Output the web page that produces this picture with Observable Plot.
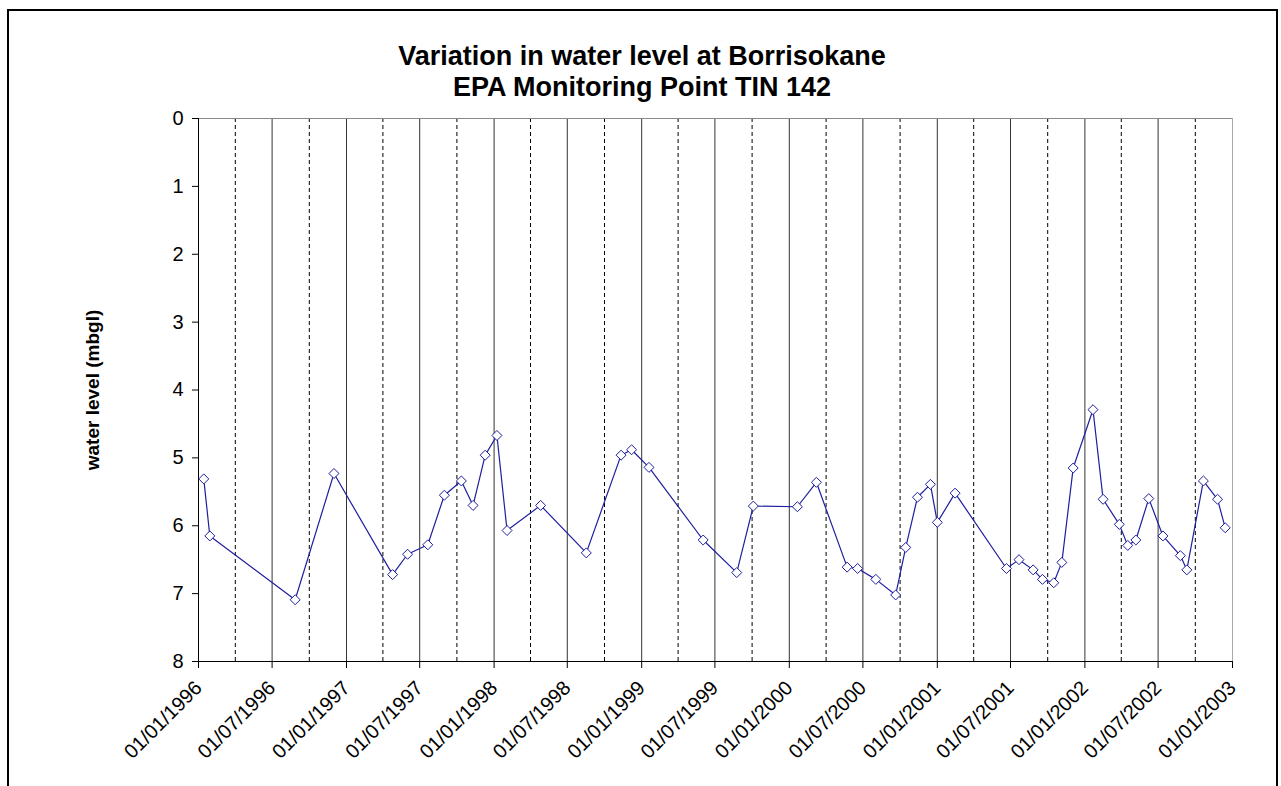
<!DOCTYPE html>
<html><head><meta charset="utf-8">
<script src="https://cdn.jsdelivr.net/npm/d3@7"></script>
<script src="https://cdn.jsdelivr.net/npm/@observablehq/plot@0.6"></script>
<style>
body{margin:0;background:#fff;font-family:Arial,"Liberation Sans",sans-serif;}
#wrap{position:relative;width:1281px;height:786px;overflow:hidden;background:#fff;}
#border{position:absolute;left:7px;top:9px;width:1271px;height:820px;border:2px solid #000;box-sizing:border-box;}
.title{position:absolute;left:1px;width:1282px;text-align:center;font-weight:bold;font-size:27px;line-height:31px;color:#000;white-space:nowrap;}
#ylab{position:absolute;left:-57.5px;top:380px;width:300px;height:20px;line-height:20px;text-align:center;font-weight:bold;font-size:19px;transform:rotate(-90deg);transform-origin:150px 10px;white-space:nowrap;}
#chart{position:absolute;left:0;top:0;}
</style></head>
<body>
<div id="wrap">
  <div id="border"></div>
  <div id="chart"></div>
  <div class="title" style="top:41px">Variation in water level at Borrisokane</div>
  <div class="title" style="top:72px">EPA Monitoring Point TIN 142</div>
  <div id="ylab">water level (mbgl)</div>
</div>
<script>
const dates = ["1996-01-14","1996-01-29","1996-08-27","1996-12-01","1997-04-25","1997-06-01","1997-07-21","1997-08-31","1997-10-12","1997-11-10","1997-12-10","1998-01-08","1998-02-02","1998-04-26","1998-08-17","1998-11-11","1998-12-07","1999-01-19","1999-06-02","1999-08-24","1999-10-04","2000-01-21","2000-03-08","2000-05-23","2000-06-18","2000-08-02","2000-09-20","2000-10-15","2000-11-13","2000-12-15","2001-01-01","2001-02-14","2001-06-21","2001-07-22","2001-08-26","2001-09-18","2001-10-16","2001-11-05","2001-12-03","2002-01-21","2002-02-15","2002-03-27","2002-04-17","2002-05-07","2002-06-08","2002-07-13","2002-08-25","2002-09-10","2002-10-21","2002-11-25","2002-12-14"];
const levels = [5.31,6.15,7.09,5.23,6.72,6.42,6.28,5.55,5.34,5.70,4.96,4.67,6.07,5.70,6.40,4.96,4.88,5.14,6.21,6.69,5.71,5.72,5.36,6.61,6.63,6.79,7.02,6.32,5.58,5.39,5.95,5.52,6.63,6.50,6.65,6.79,6.84,6.54,5.15,4.29,5.61,5.98,6.29,6.21,5.60,6.15,6.44,6.65,5.34,5.61,6.03];
const yTicks = [0,1,2,3,4,5,6,7,8];
const xTickLabels = ["01/01/1996","01/07/1996","01/01/1997","01/07/1997","01/01/1998","01/07/1998","01/01/1999","01/07/1999","01/01/2000","01/07/2000","01/01/2001","01/07/2001","01/01/2002","01/07/2002","01/01/2003"];

const parseLabel = d3.utcParse("%d/%m/%Y");
const major = xTickLabels.map(parseLabel);
const start = major[0], end = major[major.length - 1];
const minor = d3.utcMonth.every(3).range(start, end).filter(d => d.getUTCMonth() % 6 !== 0);
const data = dates.map((d, i) => ({date: new Date(d + "T00:00:00Z"), level: levels[i]}));
const blue = "#1e1e9e";

const plot = Plot.plot({
  width: 1281, height: 786,
  marginLeft: 198, marginRight: 49, marginTop: 118, marginBottom: 125,
  style: {fontFamily: 'Arial, "Liberation Sans", sans-serif', fontSize: "20px", color: "#000", background: "transparent", overflow: "visible"},
  x: {type: "utc", domain: [start, end]},
  y: {domain: [0, 8], reverse: true},
  marks: [
    Plot.ruleX(minor, {stroke: "#000", strokeDasharray: "4,3", strokeWidth: 1}),
    Plot.ruleX(major.slice(1, -1), {stroke: "#333", strokeWidth: 1}),
    Plot.ruleY([0], {stroke: "#888"}),
    Plot.ruleX([end], {stroke: "#aaa"}),
    Plot.axisY(yTicks, {tickSize: 6, tickPadding: 9, label: null, fontSize: 20, tickFormat: d3.format("d")}),
    Plot.axisX(major, {tickSize: 7, tickRotate: -45, tickFormat: d3.utcFormat("%d/%m/%Y"), label: null, tickPadding: 16, fontSize: 20}),
    Plot.ruleX([start], {stroke: "#000"}),
    Plot.ruleY([8], {stroke: "#000"}),
    Plot.line(data, {x: "date", y: "level", stroke: blue, strokeWidth: 1.2}),
    Plot.dot(data, {x: "date", y: "level", symbol: "diamond2", r: 4.5, stroke: blue, fill: "white", strokeWidth: 1})
  ]
});
document.getElementById("chart").appendChild(plot);
</script>
</body></html>
